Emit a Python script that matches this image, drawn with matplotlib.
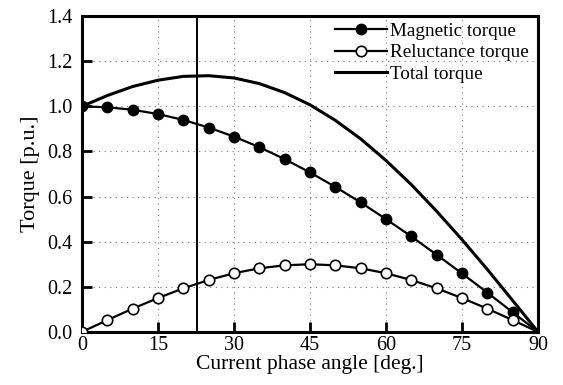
import numpy as np
import matplotlib.pyplot as plt

plt.rcParams['font.family'] = ['Liberation Serif', 'DejaVu Serif']

# current phase angle [deg.] and torque components [p.u.]
angle = [0, 5, 10, 15, 20, 25, 30, 35, 40, 45, 50, 55, 60, 65, 70, 75, 80, 85, 90]
magnetic = [1.00, 0.996, 0.985, 0.966, 0.94, 0.906, 0.866, 0.819, 0.766, 0.707,
            0.643, 0.574, 0.50, 0.423, 0.342, 0.259, 0.174, 0.087, 0.0]
reluctance = [0.0, 0.052, 0.103, 0.15, 0.193, 0.23, 0.26, 0.282, 0.295, 0.30,
              0.295, 0.282, 0.26, 0.23, 0.193, 0.15, 0.103, 0.052, 0.0]
total = list(np.array(magnetic) + np.array(reluctance))
max_angle = 22.7

fig = plt.figure(figsize=(5.63, 3.85), dpi=100)
ax = fig.add_axes([0.1456, 0.138, 0.81, 0.82])

ax.plot(angle, magnetic, color='black', lw=1.6, marker='o', ms=7.5,
        mfc='black', mec='black', markevery=slice(0, 18), label='Magnetic torque',
        zorder=3)
ax.plot(angle, reluctance, color='black', lw=1.6, marker='o', ms=7.5,
        mfc='white', mec='black', mew=1.2, markevery=slice(0, 18),
        label='Reluctance torque', zorder=3)
ax.plot(angle, total, color='black', lw=2.2, label='Total torque', zorder=3)
ax.axvline(max_angle, color='black', lw=1.4, zorder=2)

ax.set_xlim(0, 90)
ax.set_ylim(0, 1.4)
ax.set_xticks([0, 15, 30, 45, 60, 75, 90])
ax.set_yticks(np.arange(0, 1.41, 0.2))
ax.set_yticklabels(['0.0', '0.2', '0.4', '0.6', '0.8', '1.0', '1.2', '1.4'])
ax.tick_params(direction='in', length=7, width=2, labelsize=14.5)
ax.tick_params(axis='x', pad=3)
ax.tick_params(axis='y', pad=7)
ax.grid(True, ls=(0, (1, 4)), color='#777777', lw=0.8)
for s in ax.spines.values():
    s.set_linewidth(2.2)

ax.set_xlabel('Current phase angle [deg.]', fontsize=15.5, labelpad=0)
ax.set_ylabel('Torque [p.u.]', fontsize=16, labelpad=5)

ax.legend(loc='upper right', frameon=False, fontsize=13.8, handlelength=2.7,
          handletextpad=0.15, labelspacing=0.2, borderaxespad=0.1,
          bbox_to_anchor=(1.0, 1.01))

fig.savefig('out.png', dpi=100)
